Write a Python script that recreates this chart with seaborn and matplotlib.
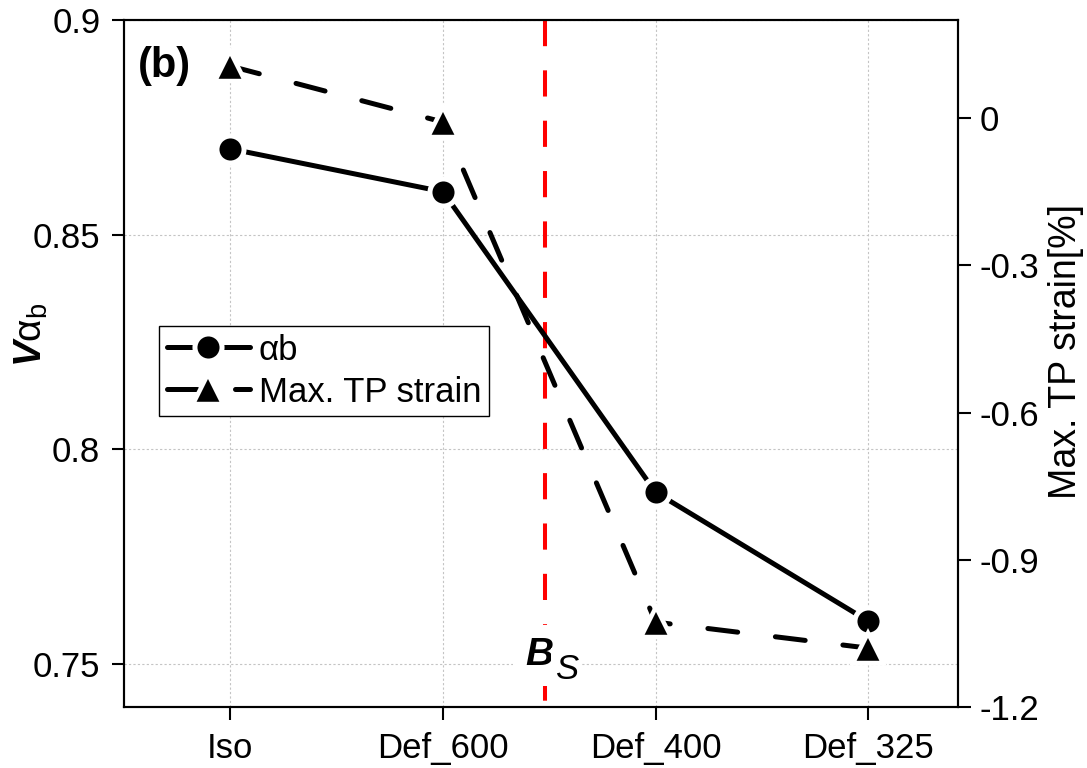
import matplotlib
matplotlib.use('Agg')
import matplotlib.pyplot as plt
import numpy as np
import pandas as pd
import seaborn as sns

categories = ['Iso', 'Def_600', 'Def_400', 'Def_325']
alpha_b = [0.87, 0.86, 0.79, 0.76]
tp_strain = [0.106, -0.008, -1.027, -1.08]
bs_position = 1.48

TICK_FONTSIZE = 25
LABEL_FONTSIZE = 27

sns.set_style('ticks')
plt.rcParams['font.family'] = ['Liberation Sans', 'DejaVu Sans']
plt.rcParams['text.color'] = 'black'
plt.rcParams['axes.labelcolor'] = 'black'
plt.rcParams['mathtext.fontset'] = 'custom'
plt.rcParams['mathtext.rm'] = 'Liberation Sans'
plt.rcParams['mathtext.it'] = 'Liberation Sans:italic'
plt.rcParams['mathtext.bf'] = 'Liberation Sans:bold:italic'

df = pd.DataFrame({'pos': np.arange(len(categories)),
                   'alpha_b': alpha_b,
                   'tp_strain': tp_strain})

fig = plt.figure(figsize=(10.87, 7.68), dpi=100)
ax = fig.add_axes([0.114, 0.0794, 0.767, 0.8946])
ax2 = ax.twinx()

# white marker edges give the small gaps between line and symbol
sns.lineplot(data=df, x='pos', y='alpha_b', ax=ax, color='black',
             marker='o', markersize=19.5, markeredgecolor='white',
             markeredgewidth=3.6, linewidth=3.6, label='\u03b1b',
             legend=False)
sns.lineplot(data=df, x='pos', y='tp_strain', ax=ax2, color='black',
             marker='^', markersize=21, markeredgecolor='white',
             markeredgewidth=3.2, linewidth=3.6, label='Max. TP strain',
             legend=False)
ax2.lines[0].set_dashes([6, 7.6])
ax2.lines[0].set_dash_capstyle('round')
ax.lines[0].set_solid_capstyle('round')

# B_S transition marker, drawn from the top of the axes downward
ax.plot([bs_position, bs_position], [1, 0], transform=ax.get_xaxis_transform(),
        color='#ff0000', linestyle=(0, (6.5, 6)), linewidth=2.9, zorder=1)
ax.annotate('B', xy=(bs_position, 0.7497), xytext=(6, 0),
            textcoords='offset points', ha='right', va='baseline',
            fontsize=28, fontweight='bold', fontstyle='italic', zorder=5,
            bbox=dict(facecolor='white', edgecolor='none', pad=9))
ax.annotate('S', xy=(bs_position, 0.7497), xytext=(7, -9.5),
            textcoords='offset points', ha='left', va='baseline',
            fontsize=25, fontstyle='italic', zorder=5,
            bbox=dict(facecolor='white', edgecolor='none', pad=3))
ax.text(-0.434, 0.8893, '(b)', fontsize=30, fontweight='bold',
        ha='left', va='center')

ax.set_xlim(-0.5, 3.42)
ax.set_ylim(0.74, 0.9)
ax2.set_ylim(-1.2, 0.2)
ax.set_xticks(range(len(categories)))
ax.set_xticklabels(categories)
ax.set_yticks([0.75, 0.8, 0.85, 0.9])
ax.set_yticklabels(['0.75', '0.8', '0.85', '0.9'])
ax2.set_yticks([-1.2, -0.9, -0.6, -0.3, 0])
ax2.set_yticklabels(['-1.2', '-0.9', '-0.6', '-0.3', '0'])

ax.grid(True, color='#c4c4c4', linestyle=(0, (2, 2)), linewidth=0.8)
ax.set_axisbelow(True)

ax.set_xlabel('')
ax.set_ylabel(r'$\mathbf{V}\mathrm{\alpha}_{\mathrm{b}}$', fontsize=28)
ax.yaxis.set_label_coords(-0.089, 0.5415)
ax2.set_ylabel('Max. TP strain[%]', fontsize=LABEL_FONTSIZE)
ax2.yaxis.set_label_coords(1.108, 0.518)

for a in (ax, ax2):
    a.tick_params(direction='out', length=9, width=1.5,
                  labelsize=TICK_FONTSIZE, colors='black')
    for spine in a.spines.values():
        spine.set_linewidth(1.5)
        spine.set_color('black')
        spine.set_visible(True)
ax.tick_params(axis='y', pad=8)
ax.tick_params(axis='x', pad=9)
ax2.tick_params(axis='y', pad=7)

handles = ax.get_lines()[:1] + ax2.get_lines()[:1]
leg = ax2.legend(handles, ['\u03b1b', 'Max. TP strain'],
                 fontsize=TICK_FONTSIZE, loc='upper left',
                 bbox_to_anchor=(0.042, 0.5546), frameon=True,
                 fancybox=False, edgecolor='black', framealpha=1,
                 handlelength=2.4, handletextpad=0.25, borderpad=0.22,
                 labelspacing=0.26, borderaxespad=0)
leg.get_frame().set_linewidth(1.0)

fig.savefig('out.png', dpi=100)
